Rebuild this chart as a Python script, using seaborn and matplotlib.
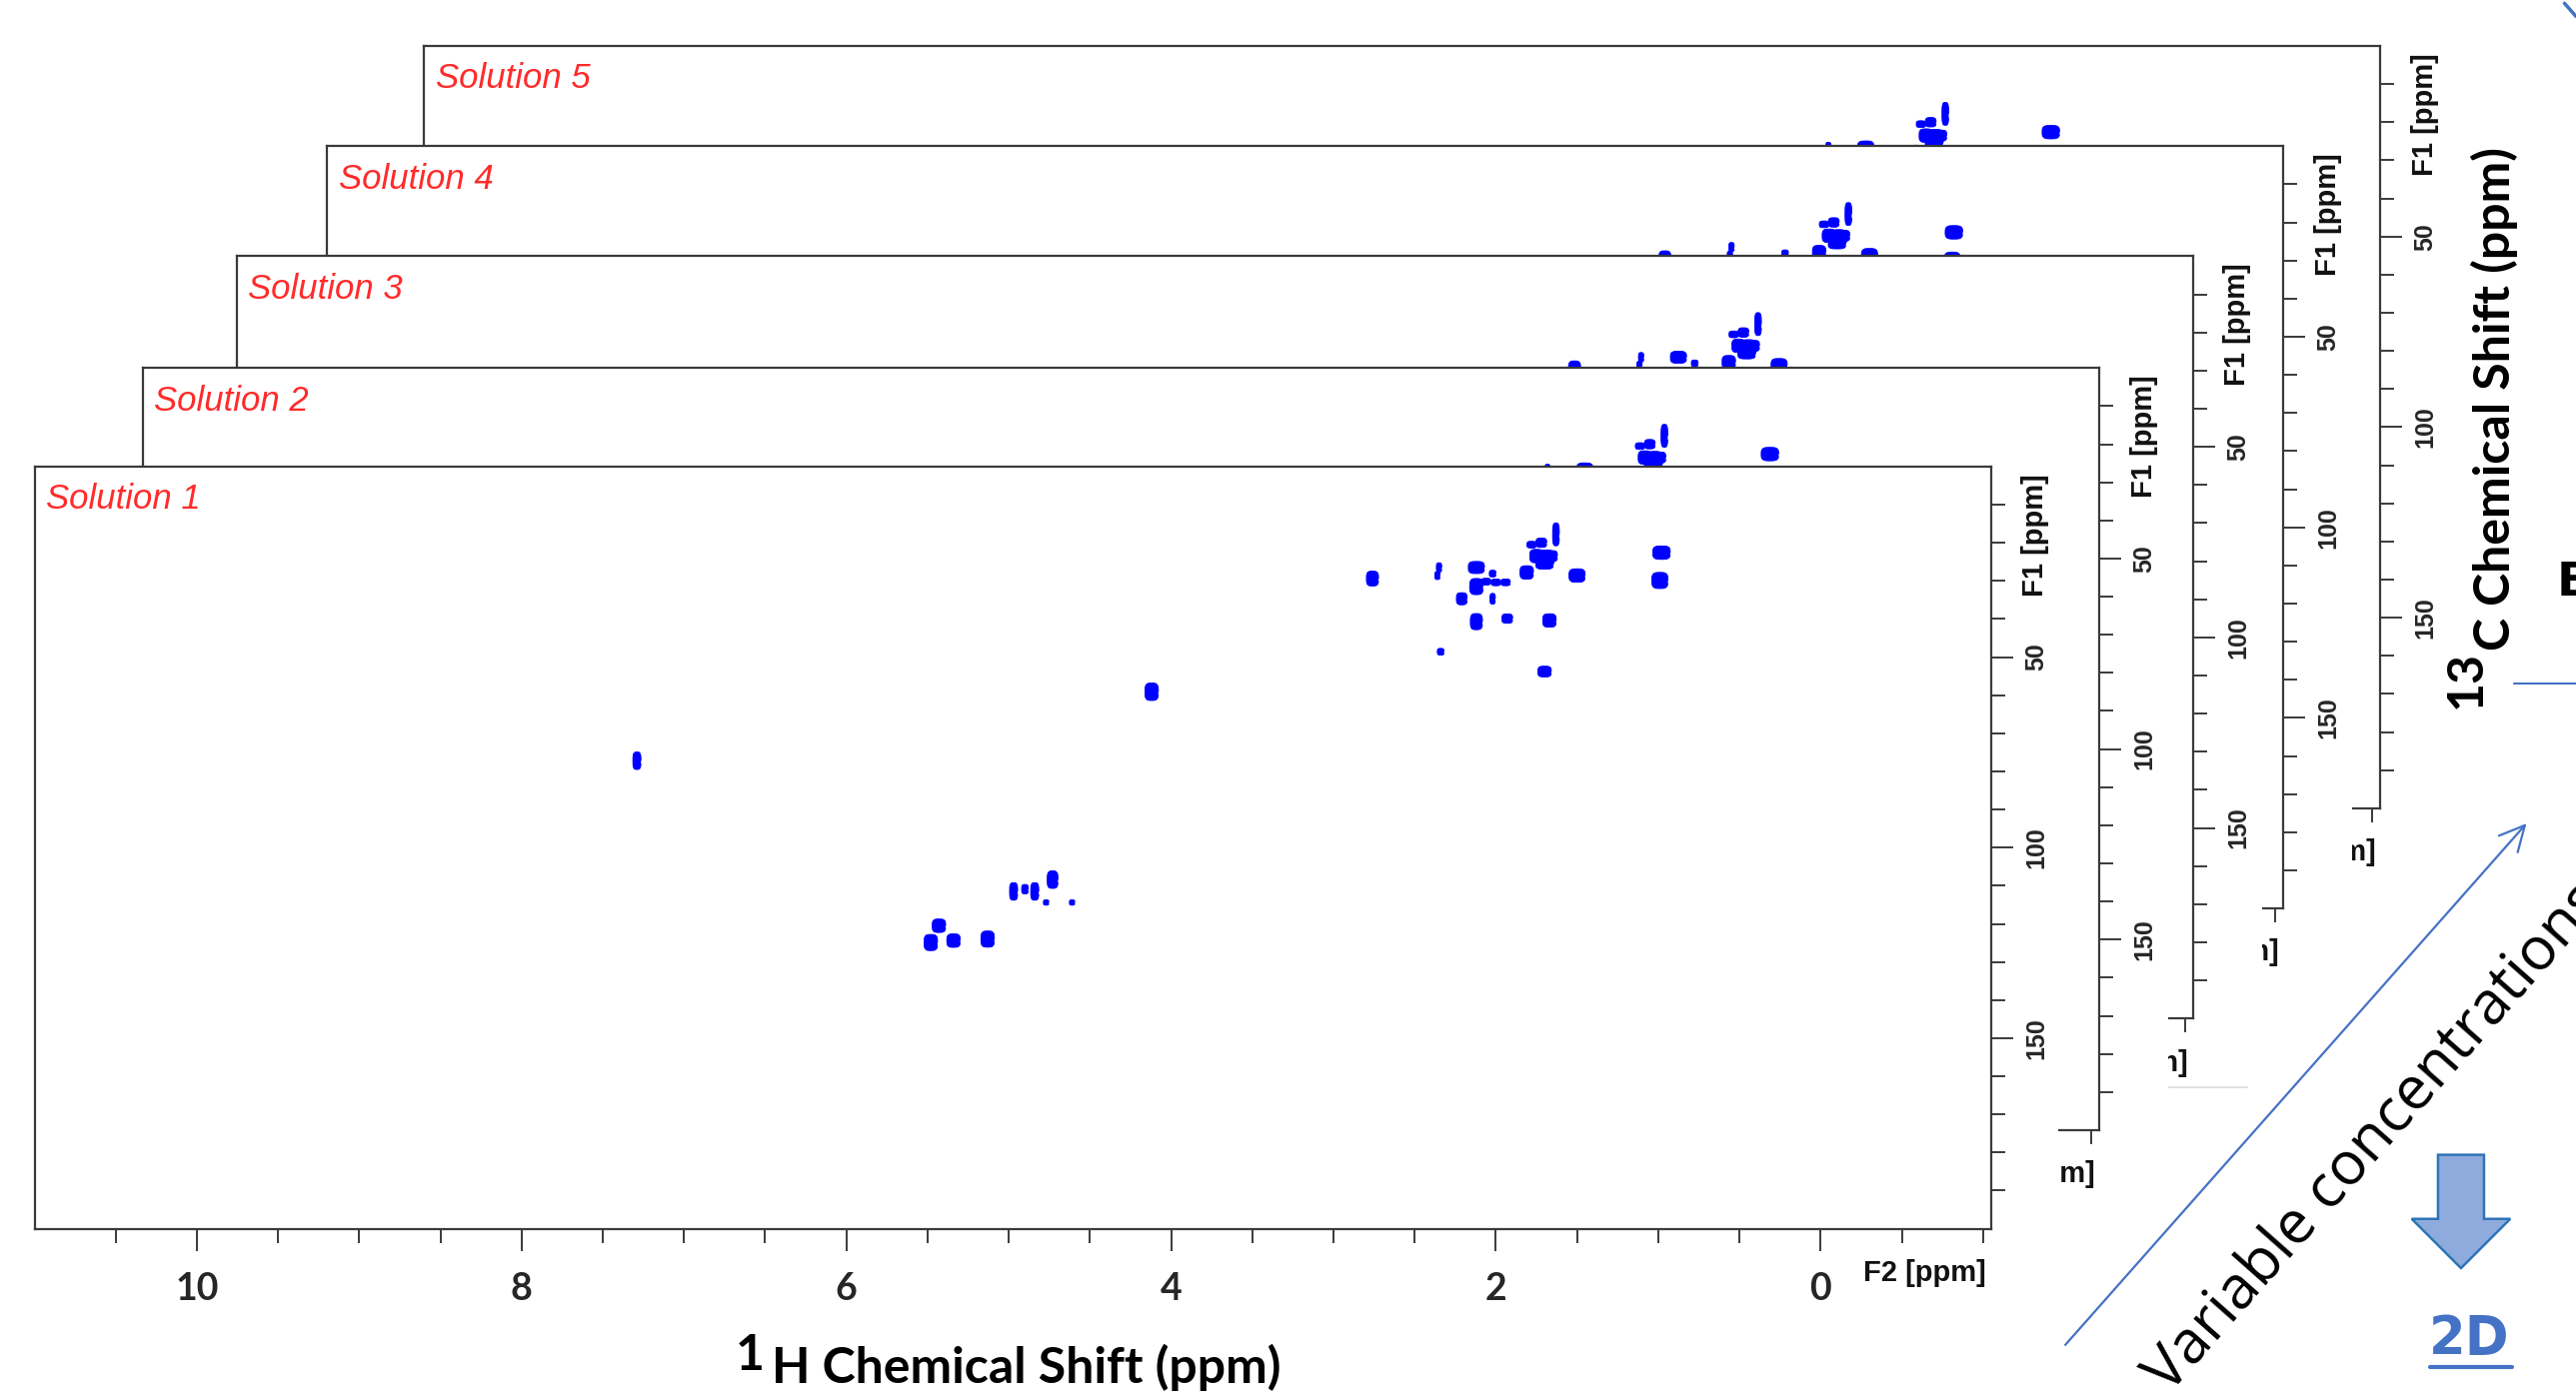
import numpy as np
import pandas as pd
import seaborn as sns
import matplotlib.pyplot as plt
from matplotlib.patches import Rectangle, Polygon, FancyArrowPatch
from matplotlib.lines import Line2D
from matplotlib.ticker import FixedLocator

# ---- data -----------------------------------------------------------------
solutions = ["Solution 1", "Solution 2", "Solution 3", "Solution 4", "Solution 5"]

# HSQC cross peaks (ppm)
peak_f2 = [2.76, 2.35, 2.36, 2.12, 2.02, 2.12, 2.06, 2.00, 1.94, 2.02,
           2.21, 2.12, 1.93, 1.67, 2.34, 1.70, 1.81, 1.78, 1.72, 1.75,
           1.69, 1.70, 1.65, 1.63, 1.50, 0.98, 0.99, 7.29, 4.12, 5.43,
           5.48, 5.34, 5.13, 4.97, 4.90, 4.84, 4.73, 4.77, 4.61]
peak_f1 = [29.4, 26.5, 28.6, 26.5, 28.1, 31.5, 30.2, 30.4, 30.4, 34.7,
           34.7, 40.7, 39.9, 40.4, 48.6, 53.8, 27.8, 20.5, 20.0, 23.5,
           24.0, 25.7, 23.5, 17.8, 28.6, 22.6, 29.9, 77.2, 59.1, 120.5,
           124.9, 124.4, 124.0, 111.5, 110.9, 111.5, 108.4, 114.4, 114.4]
# contour footprint of each peak in pixels (along F2, along F1)
peak_w = [9, 4, 4, 12, 5, 10, 7, 7, 7, 4, 8, 9, 8, 10, 5, 10, 10, 7, 8, 10,
          12, 13, 7, 5, 12, 13, 12, 6, 10, 10, 10, 10, 10, 6, 5, 6, 8, 4, 4]
peak_h = [11, 7, 6, 9, 5, 12, 5, 5, 5, 8, 9, 12, 7, 10, 5, 8, 10, 5, 7, 10,
          12, 7, 8, 17, 10, 10, 12, 13, 13, 10, 12, 10, 12, 13, 7, 13, 13, 4, 4]
# peaks missing from a given solution
absent = {"Solution 3": [25, 26], "Solution 4": [3]}

f2_major = [10, 8, 6, 4, 2, 0]
f2_minor = np.arange(-1.0, 11.0, 0.5)
f1_major = [50, 100, 150]
f1_minor = np.arange(10, 200, 10)
f2_lim = (11.0, -1.05)
f1_lim = (200.0, 0.0)

# ---- layout (reference grid 1568 x 848, output is 2577 x 1394) -----------
W, H = 1568, 848
PT = 0.72 * 2577 / 1568          # points per reference pixel
panel_left = [21, 87, 144, 199, 258]
panel_top = [284, 224, 156, 89, 28]
panel_w, panel_h = 1191, 464
blob_scale = 1.35

ink = "#3a3a3a"
peak_blue = "#0000ff"
accent = "#4472C4"

sns.set_theme(style="ticks")
plt.rcParams["font.family"] = ["DejaVu Sans"]

fig = plt.figure(figsize=(25.77, 13.94), dpi=100)

peaks = pd.DataFrame({"f2": peak_f2, "f1": peak_f1,
                      "pid": [f"p{i}" for i in range(len(peak_f2))]})


def blob(w, h, n=40):
    t = np.linspace(0, 2 * np.pi, n, endpoint=False)
    c, s = np.cos(t), np.sin(t)
    return np.column_stack([np.sign(c) * np.abs(c) ** 0.6 * w / 2,
                            np.sign(s) * np.abs(s) ** 0.6 * h / 2])


marker_map = {p: blob(w, h) for p, w, h in zip(peaks.pid, peak_w, peak_h)}
size_map = {p: (max(w, h) * blob_scale * 0.72) ** 2
            for p, w, h in zip(peaks.pid, peak_w, peak_h)}

lab_font = dict(fontfamily="Liberation Sans", fontweight="bold")

for k in range(4, -1, -1):
    name = solutions[k]
    l, t = panel_left[k], panel_top[k]
    z = 2 + 2 * (4 - k)

    # white backing so each spectrum hides the ones stacked behind it
    if k == 0:
        bx0, bx1, by0, by1 = 0, l + panel_w + 41, t, H
    else:
        bx0, bx1, by0, by1 = l, l + panel_w + 42, t, t + panel_h + 42
    fig.add_artist(Rectangle((bx0 / W, 1 - by1 / H), (bx1 - bx0) / W, (by1 - by0) / H,
                             transform=fig.transFigure, facecolor="white",
                             edgecolor="none", zorder=z))

    ax = fig.add_axes([l / W, 1 - (t + panel_h) / H, panel_w / W, panel_h / H], zorder=z + 1)
    ax.set_facecolor("white")

    df = peaks.drop(index=absent.get(name, []))
    sns.scatterplot(data=df, x="f2", y="f1", style="pid", markers=marker_map,
                    size="pid", sizes=size_map, color=peak_blue,
                    edgecolor=peak_blue, linewidth=0.6, legend=False, ax=ax)

    ax.set_xlim(*f2_lim)
    ax.set_ylim(*f1_lim)
    ax.set_xlabel("")
    ax.set_ylabel("")

    ax.xaxis.set_minor_locator(FixedLocator(f2_minor))
    ax.set_xticks(f2_major)
    ax.set_xticklabels([str(v) for v in f2_major], fontfamily="Lato",
                       fontweight="bold", fontsize=27)
    ax.tick_params(axis="x", which="both", direction="out", bottom=True, top=False,
                   color=ink, width=1.4)
    ax.tick_params(axis="x", which="major", length=16, pad=15)
    ax.tick_params(axis="x", which="minor", length=10)

    ax.yaxis.tick_right()
    ax.yaxis.set_minor_locator(FixedLocator(f1_minor))
    ax.set_yticks(f1_major)
    ax.set_yticklabels([str(v) for v in f1_major], rotation=90, va="center",
                       ha="left", fontsize=18, **lab_font)
    ax.tick_params(axis="y", which="both", direction="out", right=True, left=False,
                   labelright=True, labelleft=False, color=ink, width=1.4)
    ax.tick_params(axis="y", which="major", length=16, pad=8)
    ax.tick_params(axis="y", which="minor", length=10)

    for sp in ax.spines.values():
        sp.set_color(ink)
        sp.set_linewidth(1.6)

    ax.annotate(name, xy=(0, 1), xycoords="axes fraction",
                xytext=(7 * PT, -20 * PT), textcoords="offset points",
                ha="left", va="center", color="#ff2b2b", fontstyle="italic",
                fontfamily="Liberation Sans", fontsize=25, annotation_clip=False)
    ax.annotate("F2 [ppm]", xy=(1, 0), xycoords="axes fraction",
                xytext=(-3 * PT, -27 * PT), textcoords="offset points",
                ha="right", va="center", color="#111111", fontsize=21,
                annotation_clip=False, **lab_font)
    ax.annotate("F1 [ppm]", xy=(1, 18), xycoords=("axes fraction", "data"),
                xytext=(27 * PT, 0), textcoords="offset points", rotation=90,
                ha="center", va="center", color="#111111", fontsize=21,
                annotation_clip=False, **lab_font)


def fx(x):
    return x / W


def fy(y):
    return 1 - y / H


# faint edge left over from the stacked screenshots
fig.add_artist(Line2D([fx(1319), fx(1368)], [fy(662), fy(662)], color="#e2e2e2",
                      lw=1.5, transform=fig.transFigure, zorder=7.5))

deco = 30
title_font = dict(fontfamily="Lato", fontweight="bold", fontsize=36, color="black", zorder=deco)

# axis titles
fig.text(fx(465), fy(834), "1", ha="right", va="baseline", **title_font)
fig.text(fx(470), fy(842), "H Chemical Shift (ppm)", ha="left", va="baseline", **title_font)
fig.text(fx(1528), fy(396), "C Chemical Shift (ppm)", rotation=90,
         rotation_mode="anchor", ha="left", va="baseline", **title_font)
fig.text(fx(1510), fy(396), "13", rotation=90, rotation_mode="anchor",
         ha="right", va="baseline", **title_font)

# diagonal arrow and its caption
fig.add_artist(FancyArrowPatch((fx(1256), fy(820)), (fx(1539), fy(500)),
                               transform=fig.transFigure,
                               arrowstyle="->,head_length=0.6,head_width=0.3",
                               mutation_scale=30, color=accent, lw=1.6, zorder=deco))
fig.text(fx(1320), fy(849), "Variable concentrations", rotation=48.5,
         rotation_mode="anchor", ha="left", va="baseline", fontfamily="Open Sans",
         fontsize=43, color="black", zorder=deco)

# block arrow pointing down to "2D"
arrow_px = [(1484, 703), (1512, 703), (1512, 742), (1528, 742), (1498, 772),
            (1468, 742), (1484, 742)]
fig.add_artist(Polygon([(fx(x), fy(y)) for x, y in arrow_px], closed=True,
                       transform=fig.transFigure, facecolor="#8FAADC",
                       edgecolor="#2E75B6", lw=1.8, zorder=deco))
fig.text(fx(1503), fy(815), "2D", ha="center", va="center", fontfamily="DejaVu Sans",
         fontweight="bold", fontsize=38, color=accent, zorder=deco)
fig.add_artist(Line2D([fx(1479), fx(1529)], [fy(832), fy(832)], color=accent, lw=3,
                      transform=fig.transFigure, zorder=deco))

# pieces of the neighbouring panel cut by the frame
fig.text(fx(1556), fy(355), "B", ha="left", va="center", fontfamily="DejaVu Sans",
         fontweight="bold", fontsize=34, color="black", zorder=deco)
fig.add_artist(Line2D([fx(1530), 1.0], [fy(416), fy(416)], color=accent, lw=1.5,
                      transform=fig.transFigure, zorder=deco))
fig.add_artist(Line2D([fx(1561), 1.0], [fy(2), fy(10)], color=accent, lw=2.5,
                      transform=fig.transFigure, zorder=deco))

fig.savefig("out.png", dpi=100, facecolor="white")
